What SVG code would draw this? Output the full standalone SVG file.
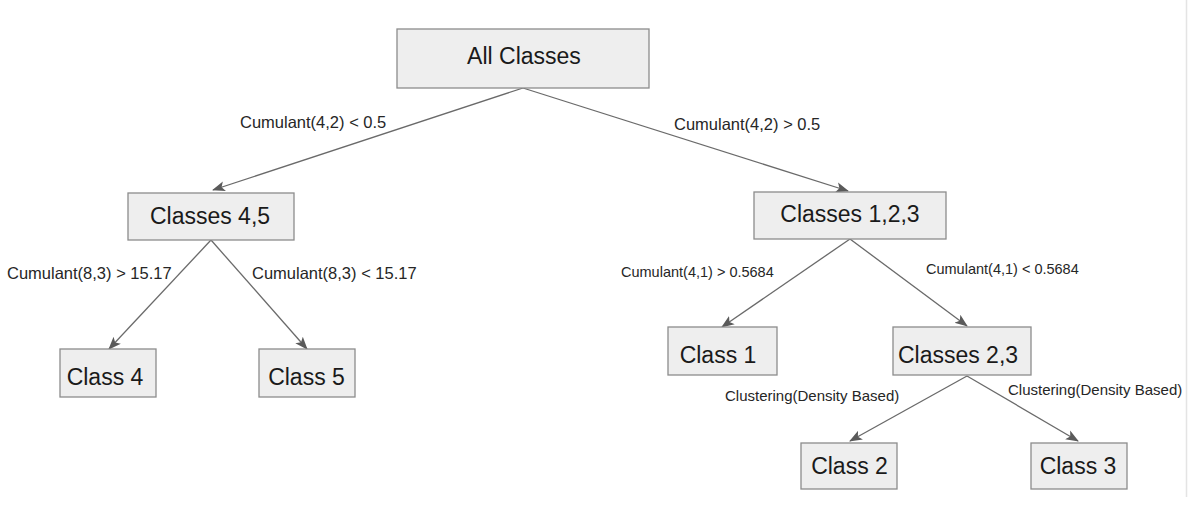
<svg xmlns="http://www.w3.org/2000/svg" width="1188" height="505" viewBox="0 0 1188 505">
<style>
.box{fill:#eeeeee;stroke:#8c8c8c;stroke-width:1.3}
.nt{font-family:"Liberation Sans",Arial,sans-serif;font-size:23px;fill:#1a1a1a;text-anchor:middle}
.edge{fill:none;stroke:#6a6a6a;stroke-width:1.3}
.lbl{font-family:"Liberation Sans",Arial,sans-serif;fill:#262626}
.l1{font-size:16.5px}
.l2{font-size:14.5px}
.l3{font-size:15px}
</style>
<defs>
<marker id="arr" markerWidth="14" markerHeight="12" refX="12" refY="5" orient="auto" markerUnits="userSpaceOnUse" viewBox="0 0 14 10">
<path d="M0,0 L13,5 L0,10 L3,5 Z" fill="#5a5a5a"/>
</marker>
</defs>
<rect x="0" y="0" width="1188" height="505" fill="#ffffff"/>
<line x1="1186.5" y1="0" x2="1186.5" y2="497" stroke="#e4e4e4" stroke-width="1.5"/>
<g id="connectors">
<line class="edge" x1="523" y1="88" x2="213" y2="190" marker-end="url(#arr)"/>
<line class="edge" x1="523" y1="88" x2="848" y2="191" marker-end="url(#arr)"/>
<line class="edge" x1="211" y1="240" x2="109" y2="349" marker-end="url(#arr)"/>
<line class="edge" x1="211" y1="240" x2="307" y2="349" marker-end="url(#arr)"/>
<line class="edge" x1="850" y1="239" x2="722" y2="327" marker-end="url(#arr)"/>
<line class="edge" x1="850" y1="239" x2="967" y2="326" marker-end="url(#arr)"/>
<line class="edge" x1="967" y1="376" x2="850" y2="441" marker-end="url(#arr)"/>
<line class="edge" x1="967" y1="376" x2="1078" y2="441" marker-end="url(#arr)"/>
<text class="lbl l1" x="240" y="128">Cumulant(4,2) &lt; 0.5</text>
<text class="lbl l1" x="674" y="130">Cumulant(4,2) &gt; 0.5</text>
<text class="lbl l1" x="7" y="279">Cumulant(8,3) &gt; 15.17</text>
<text class="lbl l1" x="252" y="279">Cumulant(8,3) &lt; 15.17</text>
<text class="lbl l2" x="621" y="277">Cumulant(4,1) &gt; 0.5684</text>
<text class="lbl l2" x="926" y="274">Cumulant(4,1) &lt; 0.5684</text>
<text class="lbl l3" x="725" y="401">Clustering(Density Based)</text>
<text class="lbl l3" x="1008" y="395">Clustering(Density Based)</text>
</g>
<g id="n-all"><rect class="box" x="397" y="29" width="252" height="59"/><text class="nt" x="524" y="64">All Classes</text></g>
<g id="n-c45"><rect class="box" x="128" y="193" width="166" height="47"/><text class="nt" x="210" y="224">Classes 4,5</text></g>
<g id="n-c123"><rect class="box" x="754" y="192" width="192" height="47"/><text class="nt" x="850" y="222">Classes 1,2,3</text></g>
<g id="n-c4"><rect class="box" x="60" y="349" width="96" height="48"/><text class="nt" x="105" y="385">Class 4</text></g>
<g id="n-c5"><rect class="box" x="259" y="349" width="96" height="48"/><text class="nt" x="306.5" y="385">Class 5</text></g>
<g id="n-c1"><rect class="box" x="668" y="327" width="109" height="48"/><text class="nt" x="718" y="363">Class 1</text></g>
<g id="n-c23"><rect class="box" x="893" y="327" width="138" height="48"/><text class="nt" x="958" y="363">Classes 2,3</text></g>
<g id="n-c2"><rect class="box" x="801" y="443" width="96" height="46"/><text class="nt" x="849.5" y="474">Class 2</text></g>
<g id="n-c3"><rect class="box" x="1031" y="443" width="96" height="46"/><text class="nt" x="1078" y="474">Class 3</text></g>
</svg>
